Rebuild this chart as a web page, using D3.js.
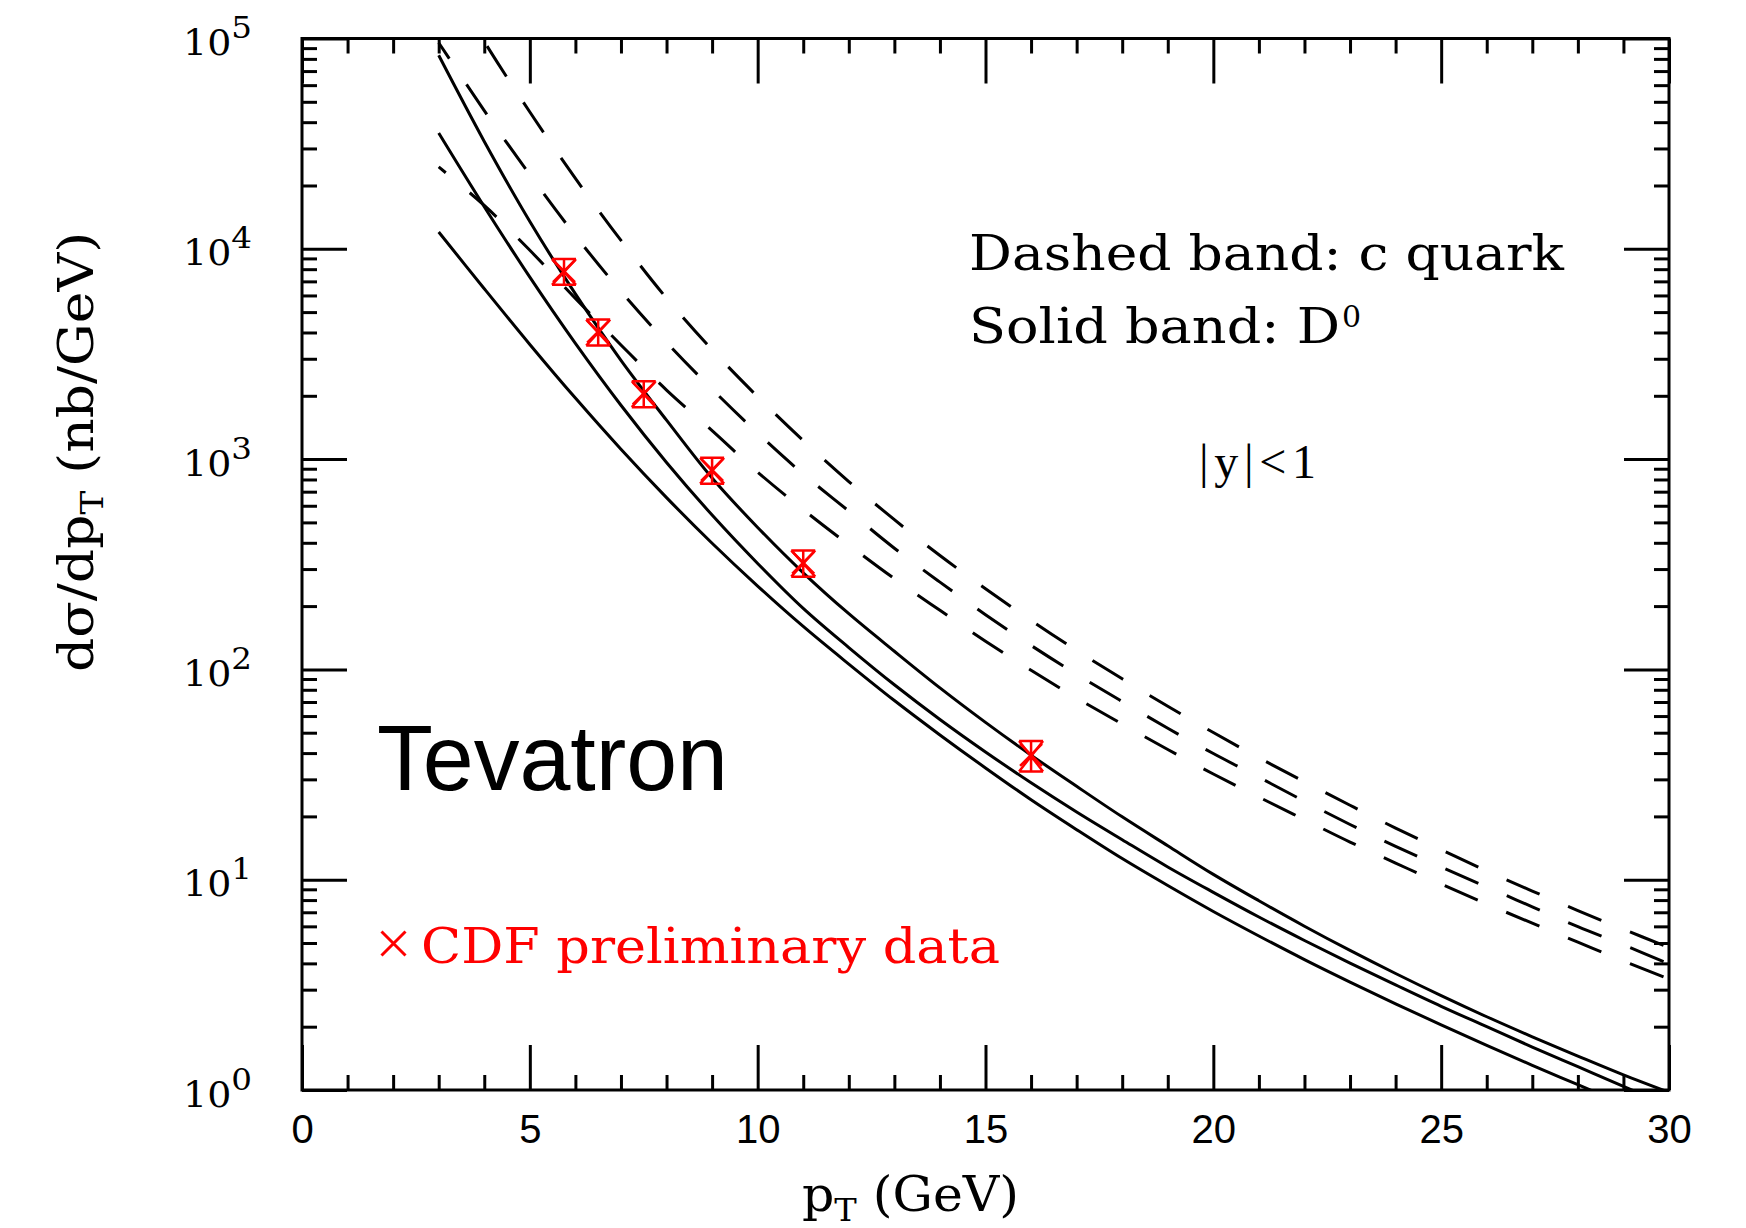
<!DOCTYPE html>
<html>
<head>
<meta charset="utf-8">
<script src="https://cdn.jsdelivr.net/npm/d3@7"></script>
<style>
  body { margin: 0; background: #fff; }
  .tick line { stroke: #000; stroke-width: 3; }
</style>
</head>
<body>
<div id="chart"></div>
<script>
/* DATA */
const ptGrid = [3, 4, 5, 6, 7, 8, 9, 10, 11, 12, 13, 14, 15, 16, 17, 18, 19, 20,
                21, 22, 23, 24, 25, 26, 27, 28, 29, 30];

// dashed band: c quark (upper / central / lower edge)
const cQuarkUpper = [224000, 96600, 44700, 21600, 10960, 5820, 3310, 1980, 1225, 782,
                     515, 348, 242, 171, 123, 90.2, 66.8, 50.1, 38.0, 29.2,
                     22.6, 17.6, 13.9, 11.0, 8.83, 7.13, 5.81, 4.76];
const cQuarkMid   = [95500, 45400, 22500, 11560, 6270, 3590, 2150, 1330, 849, 566,
                     377, 260, 182, 130, 94.8, 70.3, 52.5, 39.8, 30.7, 23.6,
                     18.3, 14.4, 11.5, 9.23, 7.43, 5.98, 4.90, 3.98];
const cQuarkLower = [24500, 16070, 9840, 5810, 3490, 2130, 1365, 867, 575, 391,
                     270, 191, 136, 99.1, 73.1, 55.0, 41.6, 31.8, 24.7, 19.3,
                     15.1, 12.0, 9.55, 7.67, 6.21, 5.05, 4.11, 3.37];

// solid band: D0 (upper / central / lower edge)
const d0Upper = [83200, 32400, 13490, 6100, 2950, 1531, 813, 473, 288, 184,
                 122, 81.7, 56.0, 39.1, 27.8, 19.9, 14.5, 10.6, 7.94, 6.01,
                 4.61, 3.58, 2.81, 2.23, 1.79, 1.45, 1.18, 0.975];
const d0Mid   = [35500, 15850, 7330, 3550, 1803, 964, 542, 319, 195, 127,
                 84.5, 57.8, 40.5, 28.9, 21.0, 15.5, 11.5, 8.71, 6.65, 5.14,
                 4.01, 3.16, 2.50, 2.00, 1.60, 1.29, 1.04, 0.841];
const d0Lower = [12020, 6460, 3510, 1950, 1114, 656, 398, 249, 160, 106,
                 71.1, 48.8, 34.0, 24.0, 17.3, 12.6, 9.38, 7.06, 5.40, 4.17,
                 3.26, 2.57, 2.04, 1.63, 1.31, 1.06, 0.857, 0.697];

// CDF preliminary data
const cdfPt    = [5.75, 6.5, 7.5, 9, 11, 16];
const cdfValue = [7840, 4035, 2055, 889, 322, 39.2];
const cdfError = [1100, 570, 290, 125, 46, 6.5];

// ticks
const xMajorTicks = [0, 5, 10, 15, 20, 25, 30];
const yDecades = [1, 10, 100, 1000, 10000, 100000];
const yExponents = ["0", "1", "2", "3", "4", "5"];

/* LAYOUT */
const width = 1746, height = 1228;
const plotLeft = 302, plotRight = 1669, plotTop = 38.5, plotBottom = 1090;

const svg = d3.select("#chart").append("svg")
  .attr("width", width)
  .attr("height", height)
  .style("display", "block");

const x = d3.scaleLinear().domain([0, 30]).range([plotLeft, plotRight]);
const y = d3.scaleLog().domain([1, 1e5]).range([plotBottom, plotTop]);

svg.append("clipPath").attr("id", "frame")
  .append("rect")
  .attr("x", plotLeft).attr("y", plotTop)
  .attr("width", plotRight - plotLeft).attr("height", plotBottom - plotTop);

/* AXES (ticks point inward on all four sides) */
const xMinor = d3.range(0, 31).filter(d => d % 5 !== 0);
const yMinor = [];
yDecades.slice(0, -1).forEach(dec => {
  for (let m = 2; m <= 9; m++) yMinor.push(dec * m);
});

function cleanAxis(g) {
  g.select(".domain").remove();
}

// bottom
svg.append("g")
  .attr("transform", `translate(0,${plotBottom})`)
  .call(d3.axisBottom(x).tickValues(xMinor).tickSize(-15).tickFormat(""))
  .call(cleanAxis);
svg.append("g")
  .attr("transform", `translate(0,${plotBottom})`)
  .call(d3.axisBottom(x).tickValues(xMajorTicks).tickSize(-45).tickPadding(25))
  .call(cleanAxis)
  .call(g => g.selectAll(".tick text")
    .attr("font-family", "'Liberation Sans', Arial, sans-serif")
    .attr("font-size", 40)
    .attr("fill", "#000"));

// top
svg.append("g")
  .attr("transform", `translate(0,${plotTop})`)
  .call(d3.axisTop(x).tickValues(xMinor).tickSize(-15).tickFormat(""))
  .call(cleanAxis);
svg.append("g")
  .attr("transform", `translate(0,${plotTop})`)
  .call(d3.axisTop(x).tickValues(xMajorTicks).tickSize(-45).tickFormat(""))
  .call(cleanAxis);

// left
svg.append("g")
  .attr("transform", `translate(${plotLeft},0)`)
  .call(d3.axisLeft(y).tickValues(yMinor).tickSize(-15).tickFormat(""))
  .call(cleanAxis);
svg.append("g")
  .attr("transform", `translate(${plotLeft},0)`)
  .call(d3.axisLeft(y).tickValues(yDecades).tickSize(-45).tickFormat(""))
  .call(cleanAxis)
  .call(g => g.selectAll(".tick text").each(function(d, i) {
    const t = d3.select(this)
      .attr("x", -50).attr("y", 16).attr("dy", null)
      .attr("text-anchor", "end")
      .attr("font-family", "'DejaVu Serif', serif")
      .attr("font-size", 35)
      .attr("textLength", 69)
      .attr("lengthAdjust", "spacingAndGlyphs")
      .attr("fill", "#000");
    t.append("tspan").text("10");
    t.append("tspan").attr("dy", -17).attr("font-size", 30).text(yExponents[i]);
  }));

// right
svg.append("g")
  .attr("transform", `translate(${plotRight},0)`)
  .call(d3.axisRight(y).tickValues(yMinor).tickSize(-15).tickFormat(""))
  .call(cleanAxis);
svg.append("g")
  .attr("transform", `translate(${plotRight},0)`)
  .call(d3.axisRight(y).tickValues(yDecades).tickSize(-45).tickFormat(""))
  .call(cleanAxis);

// frame
svg.append("rect")
  .attr("x", plotLeft).attr("y", plotTop)
  .attr("width", plotRight - plotLeft).attr("height", plotBottom - plotTop)
  .attr("fill", "none")
  .attr("stroke", "#000")
  .attr("stroke-width", 3);

/* CURVES */
const line = d3.line()
  .x(d => x(d[0]))
  .y(d => y(d[1]))
  .curve(d3.curveCatmullRom.alpha(0.5));

const curves = svg.append("g").attr("clip-path", "url(#frame)");

[d0Upper, d0Mid, d0Lower].forEach(series => {
  curves.append("path")
    .datum(ptGrid.map((p, i) => [p, series[i]]))
    .attr("d", line)
    .attr("fill", "none")
    .attr("stroke", "#000")
    .attr("stroke-width", 3);
});

const dashPeriod = 67, dashEndPhase = 42;
[cQuarkUpper, cQuarkMid, cQuarkLower].forEach(series => {
  const p = curves.append("path")
    .datum(ptGrid.map((pt, i) => [pt, series[i]]))
    .attr("d", line)
    .attr("fill", "none")
    .attr("stroke", "#000")
    .attr("stroke-width", 3)
    .attr("stroke-dasharray", "36 31");
  // line the dash pattern up at the right-hand end, like the original plot
  const L = p.node().getTotalLength();
  const off = (((dashEndPhase - L) % dashPeriod) + dashPeriod) % dashPeriod;
  p.attr("stroke-dashoffset", off);
});

/* DATA POINTS */
const red = "#ff0000";
function crossPath(cx, cy, s) {
  return `M${cx - s},${cy - s}L${cx + s},${cy + s}M${cx + s},${cy - s}L${cx - s},${cy + s}`;
}

const pts = svg.append("g")
  .attr("stroke", red)
  .attr("stroke-width", 2.5)
  .attr("fill", "none");

cdfPt.forEach((p, i) => {
  const cx = x(p), cy = y(cdfValue[i]);
  const yHi = y(cdfValue[i] + cdfError[i]);
  const yLo = y(cdfValue[i] - cdfError[i]);
  const w = 12;
  pts.append("path").attr("d", crossPath(cx, cy, 11));
  pts.append("path").attr("d",
    `M${cx},${yHi}L${cx},${yLo}` +
    `M${cx - w},${yHi}L${cx + w},${yHi}` +
    `M${cx - w},${yLo}L${cx + w},${yLo}` +
    `M${cx - w},${yHi}L${cx + w},${yLo}M${cx + w},${yHi}L${cx - w},${yLo}`);
});

/* TEXT */
const serif = "'DejaVu Serif', serif";

svg.append("text")
  .attr("x", 969).attr("y", 270)
  .attr("font-family", serif).attr("font-size", 48)
  .attr("textLength", 595).attr("lengthAdjust", "spacingAndGlyphs")
  .text("Dashed band: c quark");

svg.append("text")
  .attr("x", 969).attr("y", 343)
  .attr("font-family", serif).attr("font-size", 48)
  .attr("textLength", 371).attr("lengthAdjust", "spacingAndGlyphs")
  .text("Solid band: D");
svg.append("text")
  .attr("x", 1342).attr("y", 327)
  .attr("font-family", serif).attr("font-size", 30)
  .text("0");

svg.append("text")
  .attr("x", 1199).attr("y", 478)
  .attr("font-family", "'Liberation Serif', 'Times New Roman', serif")
  .attr("font-size", 48)
  .attr("textLength", 117).attr("lengthAdjust", "spacing")
  .text("|y|<1");

svg.append("text")
  .attr("x", 377).attr("y", 790)
  .attr("font-family", "'Liberation Sans', Arial, sans-serif")
  .attr("font-size", 92)
  .attr("textLength", 351).attr("lengthAdjust", "spacingAndGlyphs")
  .text("Tevatron");

// legend for the data
svg.append("path")
  .attr("d", crossPath(393.5, 943.5, 12))
  .attr("stroke", red).attr("stroke-width", 3).attr("fill", "none");
svg.append("text")
  .attr("x", 421).attr("y", 963)
  .attr("font-family", serif).attr("font-size", 48)
  .attr("fill", red)
  .attr("textLength", 579).attr("lengthAdjust", "spacingAndGlyphs")
  .text("CDF preliminary data");

// axis titles
const xTitle = svg.append("text")
  .attr("x", 802).attr("y", 1211)
  .attr("font-family", serif).attr("font-size", 48)
  .attr("textLength", 217).attr("lengthAdjust", "spacingAndGlyphs");
xTitle.append("tspan").text("p");
xTitle.append("tspan").attr("font-size", 32).attr("dy", 10).text("T");
xTitle.append("tspan").attr("dy", -10).text(" (GeV)");

const yTitle = svg.append("text")
  .attr("transform", "translate(93,452) rotate(-90)")
  .attr("text-anchor", "middle")
  .attr("font-family", serif).attr("font-size", 48)
  .attr("textLength", 440).attr("lengthAdjust", "spacingAndGlyphs");
yTitle.append("tspan").text("dσ/dp");
yTitle.append("tspan").attr("font-size", 32).attr("dy", 10).text("T");
yTitle.append("tspan").attr("dy", -10).text(" (nb/GeV)");
</script>
</body>
</html>
